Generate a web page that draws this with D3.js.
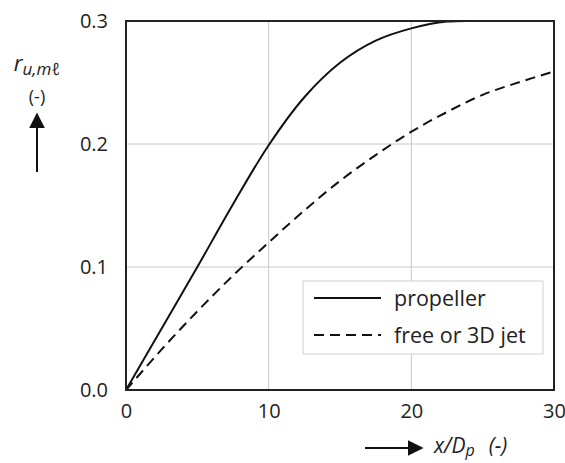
<!DOCTYPE html>
<html>
<head>
<meta charset="utf-8">
<script src="https://cdn.jsdelivr.net/npm/d3@7"></script>
<style>
  body { margin: 0; background: #fff; }
  text { font-family: "Open Sans", "Noto Sans", sans-serif; fill: #222; }
</style>
</head>
<body>
<div class="vis-chart"></div>
<script>
// values
var xValues = [0, 2.5, 5, 7.5, 10, 12.5, 15, 17.5, 20, 22.5, 25, 27.5, 30];
var propeller = [0, 0.05, 0.1, 0.151, 0.199, 0.238, 0.266, 0.284, 0.294, 0.2995, 0.3, 0.3, 0.3];
var freeJet = [0, 0.033, 0.064, 0.093, 0.12, 0.146, 0.17, 0.191, 0.21, 0.226, 0.24, 0.25, 0.259];
var xTicks = [0, 10, 20, 30];
var yTicks = [0, 0.1, 0.2, 0.3];
var seriesNames = ["propeller", "free or 3D jet"];

var width = 565, height = 463;
var margin = {top: 21, right: 11, bottom: 73, left: 126};
var w = width - margin.left - margin.right,
    h = height - margin.top - margin.bottom;

var svg = d3.select('.vis-chart').append('svg')
    .attr('width', width)
    .attr('height', height);

var defs = svg.append('defs');
defs.append('marker')
    .attr('id', 'arrow')
    .attr('viewBox', '0 0 10 10')
    .attr('refX', 9).attr('refY', 5)
    .attr('markerWidth', 16).attr('markerHeight', 16)
    .attr('markerUnits', 'userSpaceOnUse')
    .attr('orient', 'auto')
    .append('path')
    .attr('d', 'M0,0 L10,5 L0,10 Z')
    .attr('fill', '#111');

var g = svg.append('g')
    .attr('transform', 'translate(' + margin.left + ',' + margin.top + ')');

var x = d3.scaleLinear().domain([0, 30]).range([0, w]);
var y = d3.scaleLinear().domain([0, 0.3]).range([h, 0]);

// grid
g.selectAll('.gx').data(xTicks).enter().append('line')
    .attr('x1', d => x(d)).attr('x2', d => x(d))
    .attr('y1', 0).attr('y2', h)
    .attr('stroke', '#c8c8c8').attr('stroke-width', 1);
g.selectAll('.gy').data(yTicks).enter().append('line')
    .attr('y1', d => y(d)).attr('y2', d => y(d))
    .attr('x1', 0).attr('x2', w)
    .attr('stroke', '#c8c8c8').attr('stroke-width', 1);

// axes (labels only)
var xAxis = g.append('g')
    .attr('transform', 'translate(0,' + h + ')')
    .call(d3.axisBottom(x).tickValues(xTicks).tickSize(0).tickPadding(14).tickFormat(d3.format('d')));
var yAxis = g.append('g')
    .call(d3.axisLeft(y).tickValues(yTicks).tickSize(0).tickPadding(18).tickFormat(d3.format('.1f')));
[xAxis, yAxis].forEach(function(a) {
    a.select('.domain').remove();
    a.selectAll('text').attr('font-size', 20).attr('font-family', '"Open Sans", sans-serif').attr('fill', '#222');
});

// curves
var line = d3.line().x(d => x(d[0])).y(d => y(d[1])).curve(d3.curveCatmullRom.alpha(0.5));
g.append('path')
    .datum(d3.zip(xValues, propeller))
    .attr('d', line)
    .attr('fill', 'none').attr('stroke', '#111').attr('stroke-width', 2);
g.append('path')
    .datum(d3.zip(xValues, freeJet))
    .attr('d', line)
    .attr('fill', 'none').attr('stroke', '#111').attr('stroke-width', 2)
    .attr('stroke-dasharray', '10,6');

// frame
g.append('rect')
    .attr('width', w).attr('height', h)
    .attr('fill', 'none').attr('stroke', '#222').attr('stroke-width', 2);

// legend
var legend = g.append('g').attr('transform', 'translate(' + (303 - margin.left) + ',' + (281 - margin.top) + ')');
legend.append('rect')
    .attr('width', 240).attr('height', 73)
    .attr('fill', '#fff').attr('stroke', '#d0d0d0').attr('stroke-width', 1);
seriesNames.forEach(function(name, i) {
    var cy = 17 + i * 37;
    legend.append('line')
        .attr('x1', 11).attr('x2', 78)
        .attr('y1', cy).attr('y2', cy)
        .attr('stroke', '#111').attr('stroke-width', 2)
        .attr('stroke-dasharray', i === 1 ? '10,6' : null);
    legend.append('text')
        .attr('x', 91).attr('y', cy)
        .attr('dy', '0.35em')
        .attr('font-size', 21.5)
        .text(name);
});

// y-axis title with arrow
var yTitle = svg.append('text')
    .attr('x', 37).attr('y', 71)
    .attr('text-anchor', 'middle')
    .attr('font-size', 22)
    .attr('font-style', 'italic');
yTitle.append('tspan').text('r');
yTitle.append('tspan').attr('font-size', 17).attr('dy', 4).text('u,mℓ');
svg.append('text')
    .attr('x', 37).attr('y', 103)
    .attr('text-anchor', 'middle')
    .attr('font-size', 18)
    .text('(-)');
svg.append('line')
    .attr('x1', 37).attr('x2', 37)
    .attr('y1', 172).attr('y2', 114)
    .attr('stroke', '#111').attr('stroke-width', 2)
    .attr('marker-end', 'url(#arrow)');

// x-axis title with arrow
svg.append('line')
    .attr('x1', 365).attr('x2', 422)
    .attr('y1', 448).attr('y2', 448)
    .attr('stroke', '#111').attr('stroke-width', 2)
    .attr('marker-end', 'url(#arrow)');
var xTitle = svg.append('text')
    .attr('x', 434).attr('y', 453)
    .attr('font-size', 21)
    .attr('font-style', 'italic');
xTitle.append('tspan').text('x/D');
xTitle.append('tspan').attr('font-size', 16).attr('dy', 3).text('p');
xTitle.append('tspan').attr('dy', -3).attr('dx', 14).text('(-)');
</script>
</body>
</html>
